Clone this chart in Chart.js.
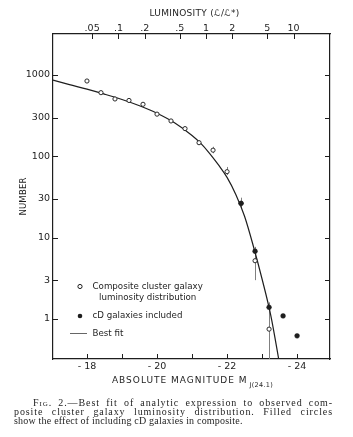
<!DOCTYPE html>
<html>
<head>
<meta charset="utf-8">
<script src="https://cdn.jsdelivr.net/npm/chart.js@4.4.1/dist/chart.umd.min.js"></script>
<style>
html,body{margin:0;padding:0;background:#fff;}
#wrap{position:relative;width:353px;height:437px;overflow:hidden;}
#c{position:absolute;left:0;top:0;}
#cap{position:absolute;left:0;top:397.5px;width:353px;font-family:"Liberation Serif","Times New Roman",serif;font-size:10px;line-height:9.4px;color:#1e1e1e;}
#cap .j{text-align:justify;text-align-last:justify;white-space:nowrap;letter-spacing:0.9px;}
#cap .l1{margin-left:33px;width:300px;}
#cap .l2{margin-left:14px;width:319px;}
#cap .l3{margin-left:14px;white-space:nowrap;letter-spacing:0.2px;}
.sc{font-variant:small-caps;}
</style>
</head>
<body>
<div id="wrap">
<canvas id="c" width="353" height="437"></canvas>
<div id="cap">
<div class="j l1"><span class="sc">Fig.</span> 2.—Best fit of analytic expression to observed com-</div>
<div class="j l2">posite cluster galaxy luminosity distribution. Filled circles</div>
<div class="l3">show the effect of including cD galaxies in composite.</div>
</div>
</div>
<script>
// ---- data ----
const magOpen = [-18.0, -18.4, -18.8, -19.2, -19.6, -20.0, -20.4, -20.8, -21.2, -21.6, -22.0, -22.4, -22.8, -23.2];
const numOpen = [843, 606, 507, 486, 436, 330, 272, 219, 147, 119, 64.7, 26.4, 5.2, 0.75];
const magFilled = [-22.4, -22.8, -23.2, -23.6, -24.0];
const numFilled = [26.4, 6.8, 1.39, 1.09, 0.62];
const curveM = [-17.03, -17.5, -18.0, -18.5, -19.0, -19.5, -20.0, -20.5, -21.0, -21.25, -21.5, -21.75, -22.0, -22.25, -22.5, -22.75, -23.0, -23.25, -23.5];
const curveN = [865, 762, 669, 581, 499, 418, 338, 258, 180, 144, 109, 79, 55, 34, 18.3, 7.9, 3.1, 1.1, 0.28];
const errM = [-21.2, -21.6, -22.0, -22.4, -22.8, -23.2];
const errHi = [156, 131, 74, 31, 7.7, 1.6];
const errLo = [139, 109, 59, 23, 3.0, 0.3];
const magTicks = [-18, -19, -20, -21, -22, -23, -24];
const magLabels = ['- 18', '', '- 20', '', '- 22', '', '- 24'];
const lumTicks = [0.05, 0.1, 0.2, 0.5, 1, 2, 5, 10];
const lumLabels = ['.05', '.1', '.2', '.5', '1', '2', '5', '10'];
const mStar = -21.4;
const numTicks = [1, 3, 10, 30, 100, 300, 1000];
const numLabels = ['1', '3', '10', '30', '100', '300', '1000'];

const X_MIN = -24.94, X_MAX = -17.03, Y_MIN = 0.322, Y_MAX = 3190;
const INK = '#1e1e1e';
const tickFont = {family: 'DejaVu Sans', size: 9.5};
const noGrid = {display: false, drawTicks: false, tickLength: 0};

const pts = (xs, ys) => xs.map((v, i) => ({x: v, y: ys[i]}));

const decor = {
  id: 'decor',
  beforeDatasetsDraw(chart) {
    const {ctx, chartArea: a} = chart;
    const x = chart.scales.x, y = chart.scales.y;
    ctx.save();
    ctx.beginPath(); ctx.rect(a.left, a.top, a.right - a.left, a.bottom - a.top); ctx.clip();
    ctx.strokeStyle = '#808080'; ctx.lineWidth = 1;
    errM.forEach((m, i) => {
      const px = Math.round(x.getPixelForValue(m)) + 0.5;
      ctx.beginPath();
      ctx.moveTo(px, y.getPixelForValue(errHi[i]));
      ctx.lineTo(px, y.getPixelForValue(errLo[i]));
      ctx.stroke();
    });
    ctx.restore();
  },
  afterDraw(chart) {
    const {ctx, chartArea: a} = chart;
    const x = chart.scales.x, x2 = chart.scales.x2, y = chart.scales.y;
    ctx.save();
    // inward tick marks
    ctx.strokeStyle = INK; ctx.lineWidth = 1;
    ctx.beginPath();
    magTicks.forEach(v => { const p = Math.round(x.getPixelForValue(v)) + 0.5; ctx.moveTo(p, a.bottom); ctx.lineTo(p, a.bottom - 5); });
    x2.ticks.forEach(t => { const p = Math.round(x2.getPixelForValue(t.value)) + 0.5; ctx.moveTo(p, a.top); ctx.lineTo(p, a.top + 5); });
    numTicks.forEach(v => { const p = Math.round(y.getPixelForValue(v)) + 0.5; ctx.moveTo(a.left, p); ctx.lineTo(a.left + 5, p); ctx.moveTo(a.right, p); ctx.lineTo(a.right - 5, p); });
    ctx.stroke();

    // axis titles
    ctx.fillStyle = INK;
    ctx.textBaseline = 'middle';
    ctx.textAlign = 'center';
    ctx.font = '9px "DejaVu Sans"';
    ctx.letterSpacing = '0.3px';
    const cx = (a.left + a.right) / 2;
    ctx.fillText('LUMINOSITY (ℒ/ℒ*)', cx + 3, 14);

    ctx.save();
    ctx.translate(24, (a.top + a.bottom) / 2);
    ctx.rotate(-Math.PI / 2);
    ctx.font = '8.5px "DejaVu Sans"';
    ctx.letterSpacing = '0.2px';
    ctx.fillText('NUMBER', 0, 0);
    ctx.restore();

    ctx.textAlign = 'left';
    ctx.font = '9px "DejaVu Sans"';
    ctx.letterSpacing = '1px';
    const main = 'ABSOLUTE MAGNITUDE M';
    const wMain = ctx.measureText(main).width;
    ctx.font = '6.5px "DejaVu Sans"';
    ctx.letterSpacing = '0.3px';
    const sub = 'J(24.1)';
    const wSub = ctx.measureText(sub).width;
    const x0 = cx + 1 - (wMain + 2 + wSub) / 2;
    ctx.font = '9px "DejaVu Sans"';
    ctx.letterSpacing = '1px';
    ctx.fillText(main, x0, 381);
    ctx.font = '6.5px "DejaVu Sans"';
    ctx.letterSpacing = '0.3px';
    ctx.fillText(sub, x0 + wMain + 2, 385.5);

    // legend
    ctx.letterSpacing = '0px';
    ctx.font = '8.7px "DejaVu Sans"';
    const lx = a.left + 27, tx = a.left + 39.5;
    ctx.lineWidth = 1;
    ctx.strokeStyle = INK;
    ctx.fillStyle = '#fff';
    ctx.beginPath(); ctx.arc(lx, 286.5, 2.1, 0, Math.PI * 2); ctx.fill(); ctx.stroke();
    ctx.fillStyle = INK;
    ctx.fillText('Composite cluster galaxy', tx, 286.5);
    ctx.fillText('luminosity distribution', tx + 6.5, 297.5);
    ctx.beginPath(); ctx.arc(lx, 316, 2.3, 0, Math.PI * 2); ctx.fill();
    ctx.fillText('cD galaxies included', tx, 316);
    ctx.strokeStyle = '#666';
    ctx.beginPath(); ctx.moveTo(a.left + 17, 333.5); ctx.lineTo(a.left + 34, 333.5); ctx.stroke();
    ctx.fillText('Best fit', tx, 333.5);
    ctx.restore();
  }
};

new Chart(document.getElementById('c'), {
  type: 'scatter',
  data: {
    datasets: [
      {label: 'cD galaxies included', data: pts(magFilled, numFilled), pointRadius: 2.4, pointBackgroundColor: INK, pointBorderColor: INK, pointBorderWidth: 0.5},
      {label: 'Composite cluster galaxy luminosity distribution', data: pts(magOpen, numOpen), pointRadius: 2.1, pointBackgroundColor: '#fff', pointBorderColor: '#2a2a2a', pointBorderWidth: 1},
      {label: 'Best fit', data: pts(curveM, curveN), showLine: true, pointRadius: 0, borderColor: INK, borderWidth: 1.2, cubicInterpolationMode: 'monotone', fill: false}
    ]
  },
  options: {
    responsive: false,
    animation: false,
    devicePixelRatio: 1,
    layout: {padding: 0},
    plugins: {legend: {display: false}, tooltip: {enabled: false}},
    events: [],
    scales: {
      x: {
        type: 'linear', position: 'bottom', min: X_MIN, max: X_MAX, reverse: true, bounds: 'data',
        afterBuildTicks: s => { s.ticks = magTicks.map(v => ({value: v})); },
        afterFit: s => { s.height = 78; },
        ticks: {autoSkip: false, maxRotation: 0, padding: 2, font: tickFont, color: INK,
                callback: (v, i) => magLabels[i]},
        grid: noGrid,
        border: {display: true, color: INK, width: 1.2}
      },
      x2: {
        type: 'linear', position: 'top', min: X_MIN, max: X_MAX, reverse: true, bounds: 'data',
        afterBuildTicks: s => { s.ticks = lumTicks.map(L => ({value: mStar - 2.5 * Math.log10(L)})); },
        afterFit: s => { s.height = 34; },
        ticks: {autoSkip: false, maxRotation: 0, padding: 0, font: tickFont, color: INK,
                callback: (v, i) => lumLabels[i]},
        grid: noGrid,
        border: {display: true, color: INK, width: 1.2}
      },
      y: {
        type: 'logarithmic', position: 'left', min: Y_MIN, max: Y_MAX, bounds: 'data',
        afterBuildTicks: s => { s.ticks = numTicks.map(v => ({value: v})); },
        afterFit: s => { s.width = 53; },
        ticks: {autoSkip: false, padding: 3, font: tickFont, color: INK,
                callback: (v, i) => numLabels[i]},
        grid: noGrid,
        border: {display: true, color: INK, width: 1.2}
      },
      y2: {
        type: 'logarithmic', position: 'right', min: Y_MIN, max: Y_MAX, bounds: 'data',
        afterBuildTicks: s => { s.ticks = numTicks.map(v => ({value: v})); },
        afterFit: s => { s.width = 23; },
        ticks: {display: false},
        grid: noGrid,
        border: {display: true, color: INK, width: 1.2}
      }
    }
  },
  plugins: [decor]
});
</script>
</body>
</html>
